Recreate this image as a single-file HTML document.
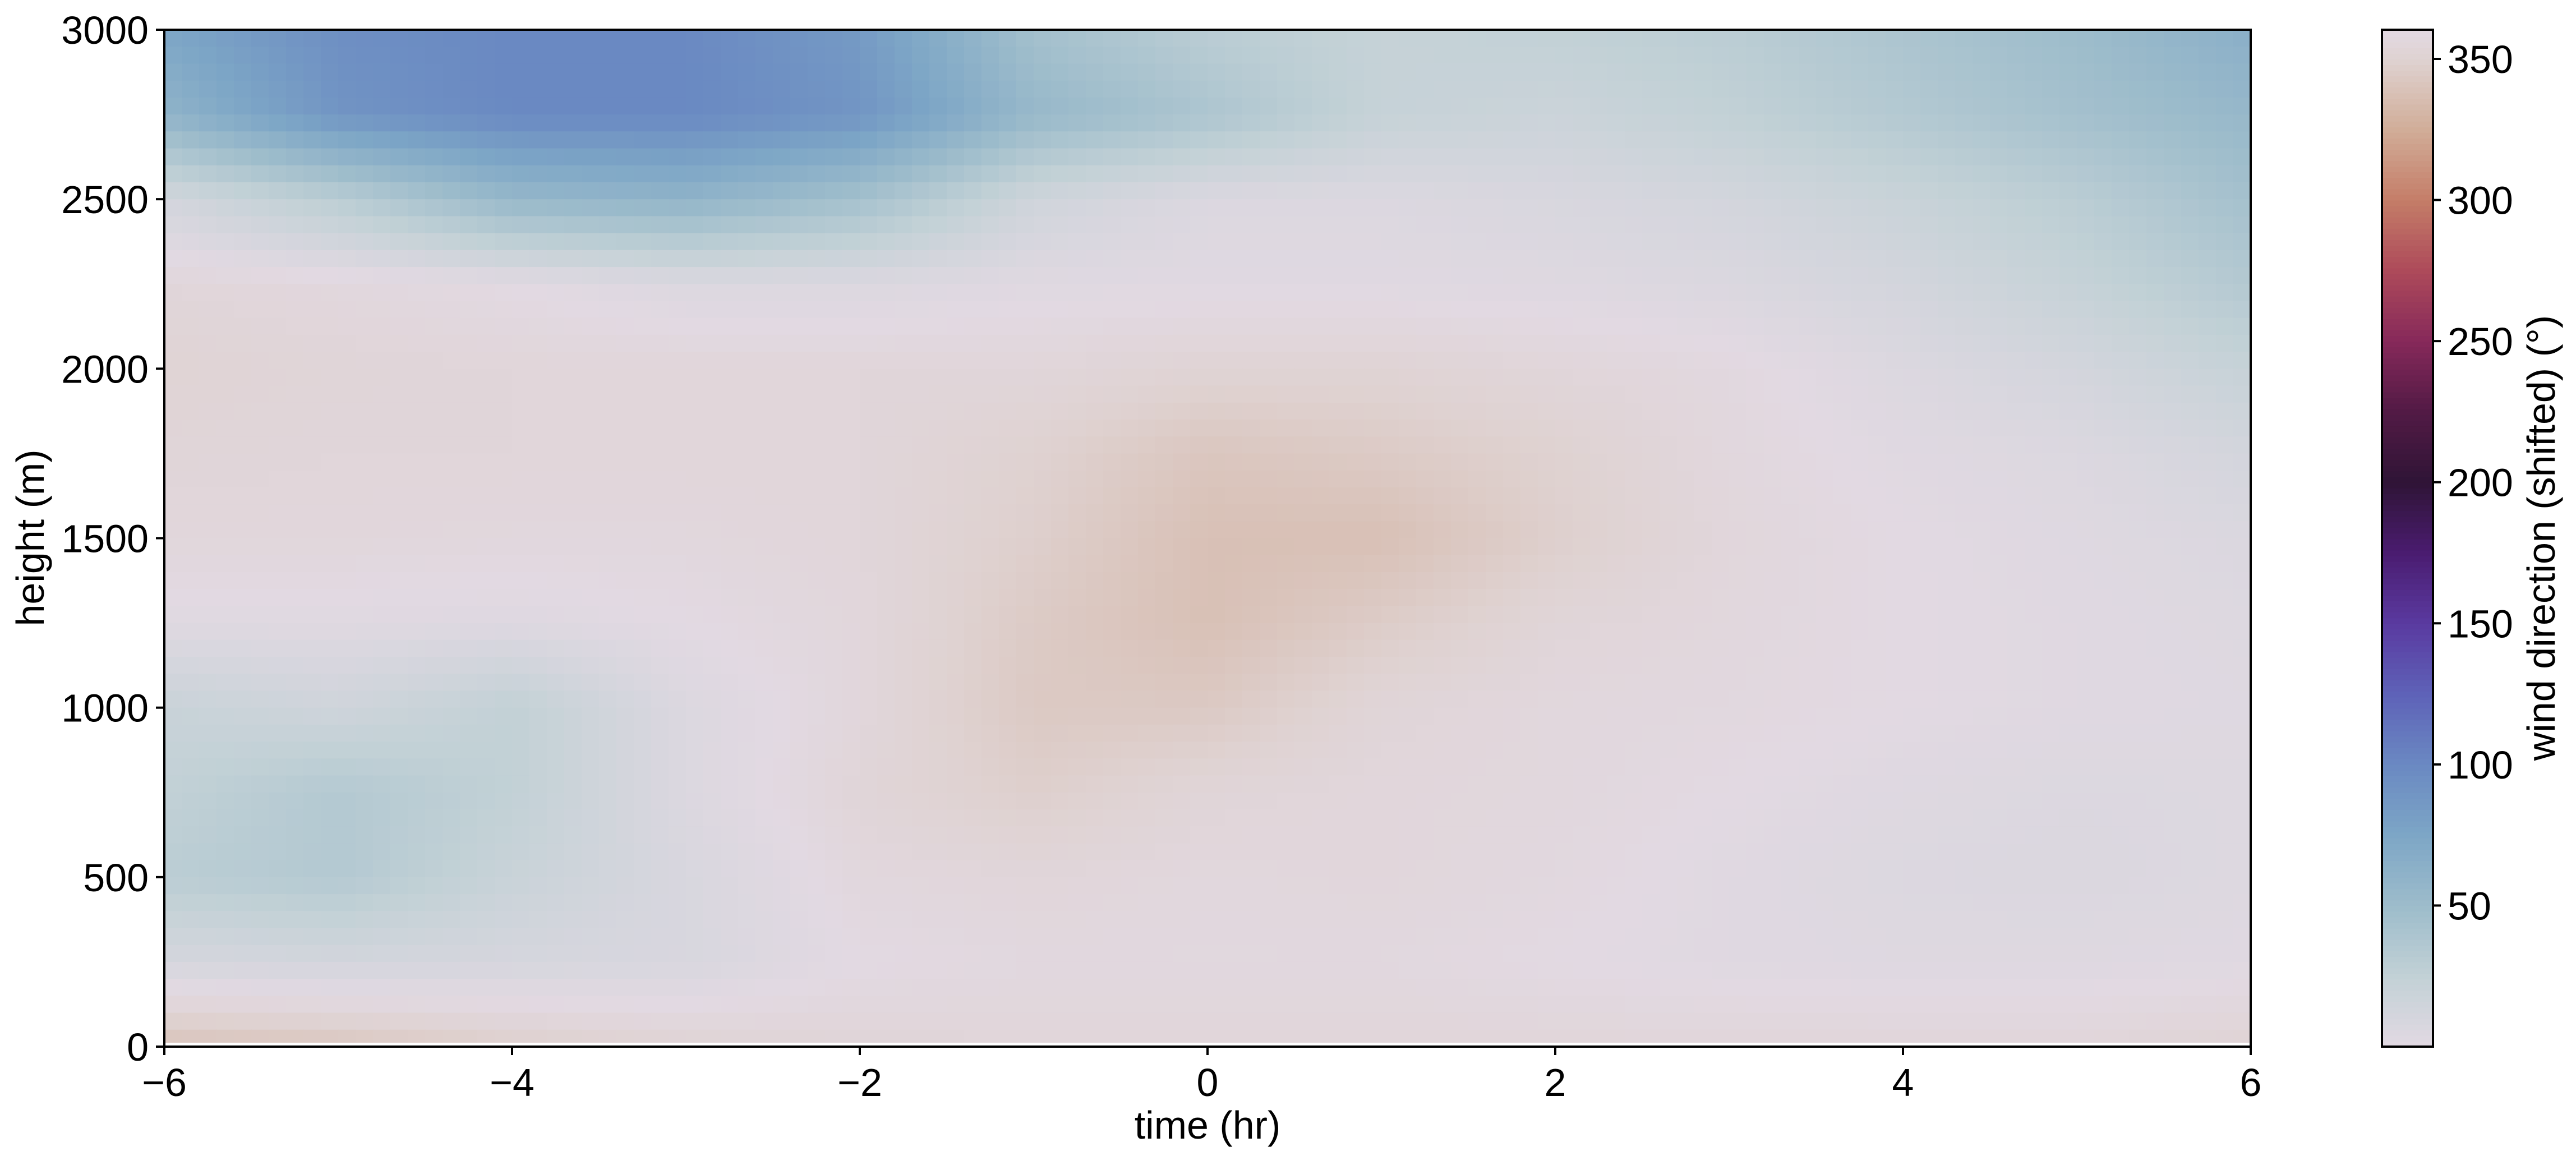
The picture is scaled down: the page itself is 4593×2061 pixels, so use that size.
<!DOCTYPE html>
<html><head><meta charset="utf-8">
<style>
html,body{margin:0;padding:0;background:#fff;}
svg{display:block;font-family:"Liberation Sans","DejaVu Sans",sans-serif;}
</style></head>
<body>
<svg id="chart" xmlns="http://www.w3.org/2000/svg" width="4593" height="2061" viewBox="0 0 4593 2061">
<g id="heat"></g>
<g id="cbar"></g>
<g id="axes"></g>
</svg>
<script>
// data: wind direction (deg, unwrapped: negative => +360) on time x height grid
const times = [-6,-5,-4,-3,-2,-1,0,1,2,3,4,5,6];
const heights = [3000,2750,2500,2250,2000,1750,1500,1250,1000,750,500,250,0];
const dirRow3000 = [75,95,100,100,85,45,30,22,25,30,40,50,65];
const dirRow2750 = [60,90,100,100,90,55,40,22,18,25,35,45,55];
const dirRow2500 = [12,30,55,60,45,15,5,5,8,12,20,30,45];
const dirRow2250 = [-5,-3,0,5,5,2,2,2,3,6,12,22,35];
const dirRow2000 = [-8,-6,-5,-5,-5,-5,-8,-8,-5,-2,5,12,22];
const dirRow1750 = [-6,-5,-5,-5,-5,-10,-18,-15,-10,-3,2,5,12];
const dirRow1500 = [-4,-4,-3,-3,-5,-12,-22,-22,-12,-4,0,3,6];
const dirRow1250 = [2,2,3,0,-4,-15,-22,-14,-6,-3,0,2,4];
const dirRow1000 = [20,15,25,5,-4,-16,-16,-6,-3,-2,0,2,3];
const dirRow750 = [25,35,25,5,-6,-12,-6,-4,-3,0,3,5,4];
const dirRow500 = [30,35,20,8,-3,-5,-3,-4,-2,2,5,6,4];
const dirRow250 = [10,12,10,8,0,-2,-2,-2,0,2,3,3,2];
const dirRow0 = [-20,-18,-12,-8,-6,-5,-5,-5,-5,-5,-5,-5,-8];
const dirRows = [dirRow3000,dirRow2750,dirRow2500,dirRow2250,dirRow2000,dirRow1750,dirRow1500,dirRow1250,dirRow1000,dirRow750,dirRow500,dirRow250,dirRow0];
const xTicks = [-6,-4,-2,0,2,4,6];
const yTicks = [0,500,1000,1500,2000,2500,3000];
const cbTicks = [50,100,150,200,250,300,350];

const NS="http://www.w3.org/2000/svg";
const X0=293,X1=4013,Y0=53,Y1=1866;
const xs=t=>X0+(t+6)/12*(X1-X0);
const ys=h=>Y1-h/3000*(Y1-Y0);
const CB0=4247,CB1=4338;
const cys=v=>1866-v*(1866-105)/350;

const stops=[[0,[226,217,226]],[25,[194,209,214]],[50,[157,188,203]],[75,[125,166,198]],[100,[106,137,194]],[125,[94,98,184]],[150,[90,58,160]],[175,[74,28,112]],[200,[47,20,54]],[225,[82,26,69]],[250,[134,41,90]],[275,[173,74,90]],[300,[196,125,104]],[325,[209,173,152]],[350,[223,210,209]],[360,[226,217,226]]];
function cmap(v){v=((v%360)+360)%360;for(let i=0;i<stops.length-1;i++){const a=stops[i],b=stops[i+1];if(v<=b[0]){const f=(v-a[0])/(b[0]-a[0]);const c=a[1].map((x,k)=>Math.round(x+(b[1][k]-x)*f));return `rgb(${c[0]},${c[1]},${c[2]})`;}}return 'rgb(226,217,226)';}
function el(tag,attrs,parent){const e=document.createElementNS(NS,tag);for(const k in attrs)e.setAttribute(k,attrs[k]);parent.appendChild(e);return e;}

const heat=document.getElementById('heat');
const NX=120,NY=60;
function sample(t,h){
  const fi=(3000-h)/250, fj=(t+6);
  const i0=Math.min(Math.floor(fi),heights.length-2), j0=Math.min(Math.floor(fj),times.length-2);
  const a=fi-i0,b=fj-j0;
  const r0=dirRows[i0],r1=dirRows[i0+1];
  return (1-a)*((1-b)*r0[j0]+b*r0[j0+1])+a*((1-b)*r1[j0]+b*r1[j0+1]);
}
for(let i=0;i<NY;i++){for(let j=0;j<NX;j++){
  const t0=-6+12*j/NX,t1=-6+12*(j+1)/NX,h1=3000-3000*i/NY,h0=3000-3000*(i+1)/NY;
  const v=sample((t0+t1)/2,(h0+h1)/2);
  const r=el('rect',{x:xs(t0),y:ys(h1),width:xs(t1)-xs(t0)+1,height:ys(h0)-ys(h1)+1,fill:cmap(v)},heat);
  
  
}}
const gap=el('rect',{x:X0,y:Y1-7,width:X1-X0,height:6,fill:'#fff'},heat);



const cb=document.getElementById('cbar');
for(let k=0;k<180;k++){const v0=k*2,v1=v0+2;
  const r=el('rect',{x:CB0,y:cys(v1),width:CB1-CB0,height:cys(v0)-cys(v1)+1,fill:cmap(v0+1)},cb);
  
  
}
const cbw=el('rect',{x:CB0,y:Y0-10,width:CB1-CB0,height:10,fill:'#fff'},cb);


const cbf=el('rect',{x:CB0,y:Y0,width:CB1-CB0,height:Y1-Y0,fill:'none',stroke:'#000','stroke-width':4},cb);


cbTicks.forEach(v=>{
  const tk=el('line',{x1:CB1,x2:CB1+14,y1:cys(v),y2:cys(v),stroke:'#000','stroke-width':4},cb);
  
  
  const tx=el('text',{x:CB1+26,y:cys(v)+25,'font-size':70},cb);tx.textContent=v;
  
  
});
const cbl=el('text',{x:4555,y:959,'font-size':70,'text-anchor':'middle',transform:'rotate(-90 4555 959)'},cb);
cbl.textContent='wind direction (shifted) (°)';



const ax=document.getElementById('axes');
const fr=el('rect',{x:X0,y:Y0,width:X1-X0,height:Y1-Y0,fill:'none',stroke:'#000','stroke-width':4},ax);


xTicks.forEach(t=>{
  const tk=el('line',{x1:xs(t),x2:xs(t),y1:Y1,y2:Y1+15,stroke:'#000','stroke-width':4},ax);
  
  
  const tx=el('text',{x:xs(t),y:Y1+88,'font-size':70,'text-anchor':'middle'},ax);
  tx.textContent=t<0?'\u2212'+(-t):String(t);
  
  
});
yTicks.forEach(h=>{
  const tk=el('line',{x1:X0-15,x2:X0,y1:ys(h),y2:ys(h),stroke:'#000','stroke-width':4},ax);
  
  
  const tx=el('text',{x:X0-28,y:ys(h)+25,'font-size':70,'text-anchor':'end'},ax);
  tx.textContent=h;
  
  
});
const xl=el('text',{x:(X0+X1)/2,y:2030,'font-size':70,'text-anchor':'middle'},ax);
xl.textContent='time (hr)';


const yl=el('text',{x:78,y:959,'font-size':70,'text-anchor':'middle',transform:'rotate(-90 78 959)'},ax);
yl.textContent='height (m)';


</script>
</body></html>
